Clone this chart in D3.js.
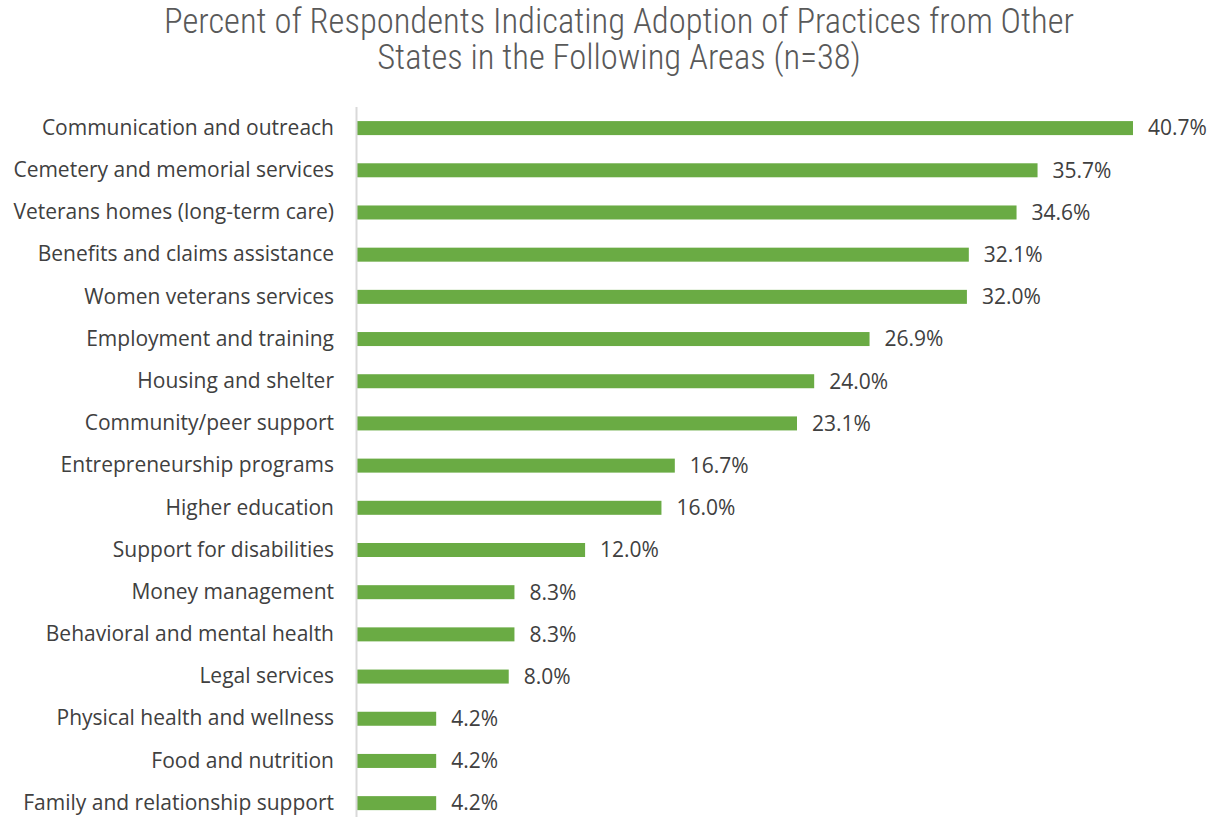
<!DOCTYPE html>
<html>
<head>
<meta charset="utf-8">
<script src="https://cdn.jsdelivr.net/npm/d3@7"></script>
<style>
  body { margin: 0; background: #fff; }
  .cat { font-family: "Open Sans", "Noto Sans", sans-serif; font-size: 21px; fill: #404040; }
  .val { font-family: "Open Sans", "Noto Sans", sans-serif; font-size: 21px; fill: #404040; }
  .title { font-family: "Roboto Condensed", "Liberation Sans Narrow", sans-serif; font-size: 34.6px; font-weight: 300; fill: #595959; }
</style>
</head>
<body>
<div id="chart"></div>
<script>
const categories = [
  "Communication and outreach",
  "Cemetery and memorial services",
  "Veterans homes (long-term care)",
  "Benefits and claims assistance",
  "Women veterans services",
  "Employment and training",
  "Housing and shelter",
  "Community/peer support",
  "Entrepreneurship programs",
  "Higher education",
  "Support for disabilities",
  "Money management",
  "Behavioral and mental health",
  "Legal services",
  "Physical health and wellness",
  "Food and nutrition",
  "Family and relationship support"
];
const values = [40.7, 35.7, 34.6, 32.1, 32.0, 26.9, 24.0, 23.1, 16.7, 16.0, 12.0, 8.3, 8.3, 8.0, 4.2, 4.2, 4.2];
const titleLines = [
  "Percent of Respondents Indicating Adoption of Practices from Other",
  "States in the Following Areas (n=38)"
];

const W = 1215, H = 817;
const left = 356;

const svg = d3.select("#chart").append("svg")
  .attr("width", W)
  .attr("height", H);

// Title
svg.selectAll(".title")
  .data(titleLines)
  .enter()
  .append("text")
  .attr("class", "title")
  .attr("x", 619)
  .attr("y", (d, i) => 33 + i * 36)
  .attr("text-anchor", "middle")
  .text(d => d);

const x = d3.scaleLinear()
  .domain([0, 40.7])
  .range([left, 1133]);

const y = d3.scaleBand()
  .domain(categories)
  .range([107, 107 + 42.19 * 17])
  .paddingInner(0.668)
  .paddingOuter(0.334);

// Bars
svg.selectAll(".bar")
  .data(values)
  .enter()
  .append("rect")
  .attr("class", "bar")
  .attr("x", x(0))
  .attr("y", (d, i) => y(categories[i]))
  .attr("width", d => x(d) - x(0))
  .attr("height", y.bandwidth())
  .attr("fill", "#6aab44");

// Value labels
svg.selectAll(".val")
  .data(values)
  .enter()
  .append("text")
  .attr("class", "val")
  .attr("x", d => x(d) + 15)
  .attr("y", (d, i) => y(categories[i]) + y.bandwidth() / 2)
  .attr("dy", "0.35em")
  .text(d => d.toFixed(1) + "%");

// Category axis
const axis = svg.append("g")
  .attr("transform", `translate(${left},0)`)
  .call(d3.axisLeft(y).tickSize(0).tickPadding(22));

axis.select(".domain")
  .attr("d", `M0.5,107V${H}`)
  .attr("stroke", "#d9d9d9")
  .attr("stroke-width", 2);

axis.selectAll(".tick text")
  .attr("class", "cat")
  .attr("font-size", null)
  .attr("font-family", null)
  .attr("fill", null);
</script>
</body>
</html>
